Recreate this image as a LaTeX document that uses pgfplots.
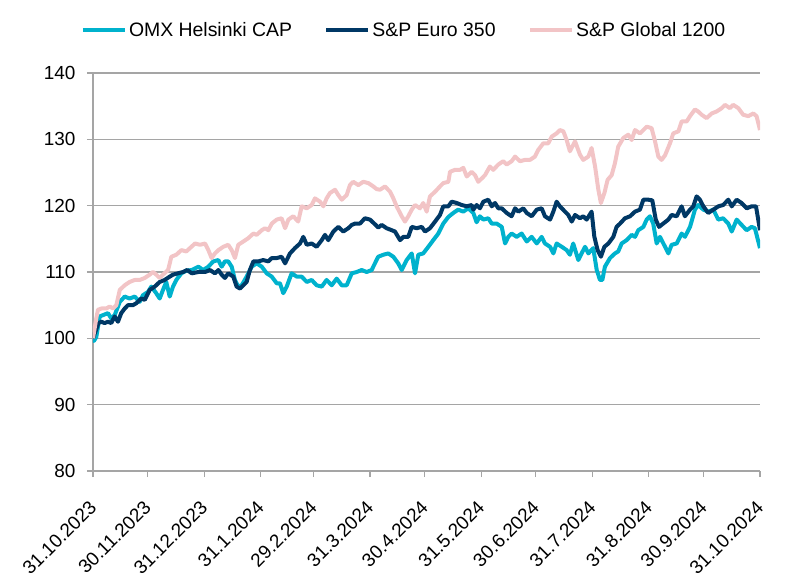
\documentclass[border=0pt]{standalone}
\usepackage{fontspec}
\setmainfont{Liberation Sans}
\usepackage{pgfplots}
\pgfplotsset{compat=1.18}
\definecolor{omx}{RGB}{0,178,205}
\definecolor{euro}{RGB}{0,56,101}
\definecolor{glob}{RGB}{242,196,198}
\definecolor{gridc}{RGB}{165,165,165}
\begin{document}
\begin{tikzpicture}
\begin{axis}[
  scale only axis, width=667bp, height=398bp,
  xmin=0, xmax=366, ymin=80, ymax=140,
  axis x line*=bottom, axis y line*=left,
  axis line style={gridc, line width=1.3bp},
  ytick={80,90,...,140},
  xtick={0,30,61,92,121,152,182,213,243,274,305,335,366},
  xticklabels={31.10.2023,30.11.2023,31.12.2023,31.1.2024,29.2.2024,31.3.2024,30.4.2024,31.5.2024,30.6.2024,31.7.2024,31.8.2024,30.9.2024,31.10.2024},
  ymajorgrids, major grid style={gridc, line width=1.3bp},
  tick align=outside, major tick length=6bp,
  tick style={gridc, line width=1.3bp},
  /pgf/number format/assume math mode=true,
  tick label style={font=\fontsize{19}{23}\selectfont, black},
  xticklabel shift=27bp,
  xticklabel style={rotate=45, anchor=east, inner sep=0bp},
  yticklabel style={xshift=-8bp},
  legend columns=3,
  legend style={draw=none, fill=none, at={(0.466,1.108)}, anchor=center,
    font=\fontsize{19.5}{23}\selectfont,
    /tikz/every even column/.append style={column sep=30bp},
    /tikz/every odd column/.append style={column sep=0bp}},
  legend image code/.code={\draw[#1, line width=4.5bp] (0bp,0bp) -- (42bp,0bp);},
  every axis plot/.append style={line width=4bp, line join=round},
]
\coordinate (ll) at (rel axis cs:0,0);
\coordinate (ur) at (rel axis cs:1,1);
\addplot[omx] coordinates {
(0,100) (0.5,99.6) (1.8,100.2) (3.7,103.3) (5.5,103.5) (8.2,103.8) (10.0,103.0) (11.9,103.5) (14.7,105.5) (17.4,106.3)
(20.1,106.0) (22.9,106.3) (25.6,105.5) (27.4,106.5) (30.2,107.0) (32.0,107.8) (34.7,106.8) (36.6,106.0) (38.4,107.3) (40.2,108.5)
(42.1,106.3) (43.9,107.8) (45.7,108.8) (48.5,109.8) (51.2,110.2) (54.2,110.3) (57.8,110.8) (60.5,110.3) (63.3,110.8) (66.0,111.6)
(68.8,111.8) (70.6,110.8) (72.4,111.6) (74.2,111.6) (76.1,110.8) (77.9,108.8) (79.7,107.8) (81.6,108.0) (84.3,109.3) (87.1,110.8)
(89.8,111.3) (92.6,110.8) (95.3,109.8) (98.1,109.3) (100.8,108.3) (102.6,108.3) (104.4,106.8) (106.3,107.8) (109.0,109.8) (111.8,109.3)
(114.5,109.3) (117.3,108.5) (120.0,108.8) (122.7,108.0) (125.5,107.8) (128.2,108.8) (131.0,108.0) (133.7,109.0) (136.5,108.0) (139.2,108.0)
(142.0,109.8) (144.7,110.0) (147.4,110.3) (150.2,110.0) (152.9,110.3) (154.7,111.3) (156.5,112.3) (159.3,112.6) (162.0,112.8) (164.8,112.3)
(167.5,111.3) (169.4,110.3) (172.1,111.8) (174.9,112.8) (176.7,109.8) (178.5,112.6) (181.2,112.8) (184.0,113.8) (186.7,114.8) (189.5,115.8)
(192.2,117.3) (195.0,118.3) (197.7,118.9) (200.4,119.4) (203.2,119.1) (205.9,119.6) (208.7,118.9) (210.5,117.5) (212.3,118.4) (214.2,117.9)
(216.9,118.1) (218.8,117.3) (221.5,117.3) (224.3,116.8) (226.1,114.3) (227.9,115.3) (229.7,115.8) (232.5,115.3) (235.2,115.8) (238.0,114.6)
(240.7,115.3) (243.5,114.3) (246.2,115.3) (248.0,114.3) (250.8,113.8) (252.6,112.8) (254.4,114.3) (257.2,113.8) (259.9,113.3) (261.7,112.6)
(263.5,114.3) (266.3,111.8) (268.1,112.8) (270.0,113.8) (271.8,112.8) (274.5,113.6) (276.4,110.3) (278.2,108.8) (279.5,108.8) (280.9,110.8)
(283.7,112.1) (286.4,112.8) (288.2,113.1) (290.1,114.3) (292.8,114.8) (295.6,115.6) (297.4,115.3) (299.2,116.3) (302.0,116.8) (303.8,117.9)
(305.6,118.4) (307.4,117.3) (309.3,114.3) (311.1,115.3) (313.9,113.8) (315.7,112.8) (317.5,114.1) (320.3,114.3) (323.0,115.8) (324.8,115.3)
(327.6,116.8) (330.3,119.4) (332.1,120.1) (334.9,119.4) (337.6,119.1) (340.4,119.4) (343.1,117.9) (345.8,118.1) (348.6,117.3) (350.5,116.1)
(353.2,117.9) (355.9,117.1) (358.7,116.3) (361.4,116.8) (363.2,116.6) (366,113.6)
};
\addlegendentry{OMX Helsinki CAP}
\addplot[euro] coordinates {
(0,100) (3.0,102.3) (4.6,102.5) (6.4,102.3) (8.2,102.5) (10.0,102.3) (11.9,103.3) (13.7,102.5) (15.5,103.8) (17.4,104.5)
(19.2,105.0) (21.9,105.0) (23.8,105.3) (26.5,106.0) (28.4,105.8) (31.1,107.3) (33.9,107.8) (36.6,108.5) (39.3,108.8) (42.1,109.3)
(43.9,109.6) (46.6,109.8) (49.4,110.0) (51.7,110.3) (54.2,109.8) (57.8,110.0) (61.5,110.0) (64.2,110.3) (66.9,109.8) (68.8,110.3)
(70.6,109.6) (72.4,109.1) (74.2,109.8) (77.0,109.3) (78.8,107.8) (80.7,107.5) (82.5,108.0) (84.3,108.5) (86.1,110.3) (88.0,111.6)
(90.7,111.6) (93.4,111.8) (96.2,111.6) (98.1,112.1) (100.8,112.1) (103.5,112.3) (105.4,111.3) (108.1,112.8) (110.8,113.6) (113.6,114.3)
(115.4,115.3) (117.3,114.1) (120.0,114.3) (122.7,113.8) (125.5,114.8) (127.3,115.6) (129.1,114.8) (131.9,116.1) (134.6,116.8) (137.3,116.1)
(140.1,116.6) (142.0,117.1) (143.8,117.3) (146.5,117.3) (149.2,118.1) (152.0,117.9) (154.7,117.2) (156.5,116.7) (158.4,117.1) (161.1,116.6)
(163.9,116.3) (165.7,116.1) (168.5,114.8) (170.3,115.3) (173.0,115.3) (174.9,116.8) (177.6,116.6) (180.4,116.8) (182.2,116.1) (184.9,116.6)
(187.7,117.6) (190.4,118.6) (192.2,119.9) (195.0,119.9) (196.8,120.6) (199.6,120.4) (202.3,120.1) (205.1,119.9) (207.8,120.1) (208.7,119.4)
(210.5,120.1) (212.3,119.6) (214.2,120.6) (216.9,120.9) (218.8,119.9) (220.6,120.4) (222.4,119.6) (224.3,119.6) (227.0,118.9) (229.7,118.4)
(231.6,119.6) (233.4,119.1) (236.1,119.6) (238.0,118.9) (240.7,118.4) (243.5,119.4) (246.2,119.6) (248.0,118.4) (250.8,117.9) (252.6,119.1)
(254.4,120.6) (256.2,119.9) (259.0,119.1) (260.8,118.6) (262.7,117.6) (264.5,118.6) (267.2,118.1) (269.0,118.4) (270.9,117.9) (273.6,119.1)
(275.1,115.3) (276.9,113.3) (278.7,112.3) (280.6,113.8) (282.8,114.3) (285.5,115.3) (287.3,116.8) (289.2,117.3) (291.9,118.1) (294.7,118.4)
(297.4,119.1) (300.1,119.4) (302.0,120.9) (304.7,120.9) (306.9,120.8) (308.8,117.9) (310.6,116.8) (312.9,117.3) (315.7,117.9) (317.5,118.6)
(320.3,118.4) (323.0,119.9) (324.8,118.4) (327.6,119.4) (329.4,119.9) (331.2,121.4) (333.0,120.9) (334.9,119.9) (337.6,118.9) (340.4,119.4)
(343.1,119.9) (345.8,120.1) (348.6,120.9) (350.5,119.9) (353.2,120.9) (355.9,120.4) (358.7,119.6) (361.4,119.9) (363.8,119.9) (366,116.3)
};
\addlegendentry{S\&P Euro 350}
\addplot[glob] coordinates {
(0,100) (1.8,103.0) (2.7,104.3) (4.6,104.5) (7.3,104.5) (9.2,104.8) (11.0,104.5) (12.8,105.0) (14.7,107.3) (17.4,108.0)
(20.1,108.5) (22.9,108.8) (25.6,108.8) (28.4,109.1) (31.1,109.6) (32.9,110.0) (34.7,109.6) (36.6,109.1) (38.4,109.6) (41.2,110.3)
(43.0,112.3) (45.7,112.6) (48.5,113.3) (51.2,113.1) (53.2,113.6) (56.0,114.3) (58.7,114.1) (61.5,114.3) (63.3,113.3) (65.1,112.1)
(66.9,112.8) (68.8,113.3) (71.5,113.8) (74.2,114.1) (76.1,113.3) (77.9,112.1) (79.7,114.1) (82.5,114.6) (85.2,115.1) (88.0,115.8)
(89.8,115.6) (92.6,116.3) (94.4,116.6) (96.2,116.3) (98.1,117.3) (100.8,117.9) (103.5,118.1) (105.4,116.6) (107.2,117.9) (109.9,118.4)
(112.6,117.6) (114.5,119.9) (117.3,119.6) (120.0,120.1) (121.8,121.1) (124.6,120.6) (126.4,119.9) (128.2,121.1) (130.0,121.9) (132.8,122.4)
(134.6,121.6) (136.5,120.9) (139.2,121.6) (141.0,123.1) (142.8,123.6) (145.6,123.1) (148.3,123.6) (151.1,123.4) (153.8,122.9) (155.6,122.5)
(157.5,122.4) (160.2,122.9) (163.0,122.1) (164.8,121.1) (166.6,119.9) (169.4,118.4) (171.2,117.6) (173.0,118.4) (174.9,119.4) (176.7,120.1)
(179.4,119.6) (181.2,120.4) (183.1,119.1) (184.9,121.4) (187.7,122.1) (190.4,122.9) (192.2,123.4) (195.0,123.6) (195.9,125.1) (198.6,125.4)
(201.4,125.4) (203.2,125.7) (205.1,124.4) (207.8,125.1) (209.6,124.6) (211.4,123.6) (213.3,124.1) (215.1,124.6) (217.8,125.9) (219.6,125.4)
(222.4,126.2) (225.1,126.7) (227.0,126.2) (229.7,126.7) (231.6,127.4) (234.3,126.7) (237.0,126.9) (239.8,126.9) (242.5,127.4) (244.3,128.4)
(247.1,129.4) (249.8,129.4) (251.7,130.4) (254.4,130.9) (256.2,131.4) (258.1,131.2) (259.9,129.9) (261.7,128.2) (264.5,129.7) (267.2,127.7)
(269.0,126.9) (271.8,127.4) (273.6,128.7) (275.5,125.9) (277.3,122.4) (278.7,120.4) (280.6,121.9) (282.4,123.9) (284.6,124.6) (286.4,126.4)
(288.2,128.9) (291.0,130.2) (293.7,130.7) (295.6,129.9) (297.4,131.4) (300.1,130.9) (302.0,131.4) (303.8,131.9) (306.5,131.7) (308.4,129.7)
(310.2,127.4) (312.0,126.9) (313.9,127.6) (314.8,128.2) (316.6,129.4) (318.4,130.9) (321.2,131.2) (323.0,132.7) (325.8,132.7) (327.6,133.5)
(330.3,134.5) (332.1,134.2) (334.0,133.7) (336.7,133.2) (339.5,133.9) (342.2,134.2) (345.0,134.7) (346.8,135.2) (349.5,134.7) (351.3,135.2)
(354.1,134.7) (356.8,133.7) (359.6,133.5) (362.3,133.9) (364.1,133.5) (366,131.4)
};
\addlegendentry{S\&P Global 1200}
\end{axis}
\pgfresetboundingbox
\path[use as bounding box] ([xshift=-93bp,yshift=-116bp]ll) rectangle ([xshift=40bp,yshift=73bp]ur);
\end{tikzpicture}
\end{document}
